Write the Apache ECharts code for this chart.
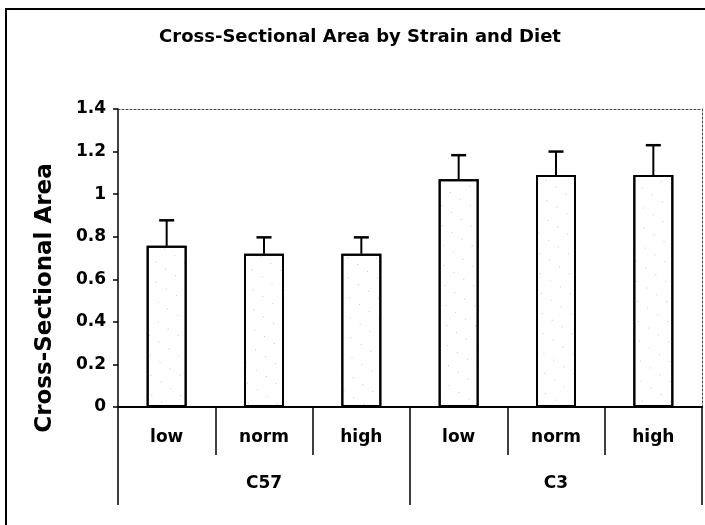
<!DOCTYPE html>
<html>
<head>
<meta charset="utf-8">
<script src="https://cdn.jsdelivr.net/npm/echarts@6/dist/echarts.min.js"></script>
<style>html,body{margin:0;padding:0;background:#fff}#c{width:705px;height:525px}</style>
</head>
<body>
<div id="c"></div>
<script>
var title = 'Cross-Sectional Area by Strain and Diet';
var yTitle = 'Cross-Sectional Area';
var diets = ['low', 'norm', 'high', 'low', 'norm', 'high'];
var strains = ['C57', 'C3'];
var means = [0.757, 0.72, 0.72, 1.07, 1.09, 1.09];
var errors = [0.12, 0.077, 0.077, 0.113, 0.11, 0.14];

var chart = echarts.init(document.getElementById('c'), null, {renderer: 'canvas'});
var F = '"DejaVu Sans", "Liberation Sans", Arial, sans-serif';
var errData = means.map(function (m, i) { return [i, m, m + errors[i]]; });

chart.setOption({
  animation: false,
  backgroundColor: '#fff',
  title: {
    text: title, left: 355, top: 23, textAlign: 'center',
    textStyle: {fontFamily: F, fontSize: 18, fontWeight: 'bold', color: '#000'}
  },
  graphic: [{
    type: 'polyline', silent: true,
    shape: {points: [[6, 530], [6, 9], [710, 9]]},
    style: {stroke: '#000', lineWidth: 2, fill: null}
  }, {
    type: 'text', silent: true, x: 45, y: 298, rotation: Math.PI / 2,
    style: {text: yTitle, fontFamily: F, fontSize: 23, fontWeight: 'bold', fill: '#000', align: 'center', verticalAlign: 'middle'}
  }],
  grid: {left: 118, right: 3, top: 109, bottom: 118, containLabel: false},
  xAxis: [{
    type: 'category', data: diets, position: 'bottom', boundaryGap: true,
    axisLine: {show: true, lineStyle: {color: '#000', width: 2}},
    axisTick: {show: true, interval: 0, length: 48, alignWithLabel: false, lineStyle: {color: '#000', width: 1.5}},
    axisLabel: {interval: 0, margin: 22, fontFamily: F, fontSize: 17, fontWeight: 'bold', color: '#000'}
  }, {
    type: 'category', data: strains, position: 'bottom', boundaryGap: true,
    axisLine: {show: false},
    axisTick: {show: true, interval: 0, length: 98, lineStyle: {color: '#000', width: 1.5}},
    axisLabel: {interval: 0, margin: 68, fontFamily: F, fontSize: 17, fontWeight: 'bold', color: '#000'}
  }, {
    type: 'category', data: diets, position: 'top',
    axisLine: {show: true, lineStyle: {color: '#444', width: 1, type: [2, 2]}},
    axisTick: {show: false}, axisLabel: {show: false}
  }],
  yAxis: [{
    type: 'value', min: 0, max: 1.4, interval: 0.2,
    axisLine: {show: true, lineStyle: {color: '#000', width: 1.5}},
    axisTick: {show: true, length: 5, lineStyle: {color: '#000', width: 1.5}},
    axisLabel: {margin: 12, fontFamily: F, fontSize: 17, fontWeight: 'bold', color: '#000'},
    splitLine: {show: false}
  }, {
    type: 'value', min: 0, max: 1.4, interval: 0.2, position: 'right',
    axisLine: {show: true, lineStyle: {color: '#444', width: 1, type: [2, 2]}},
    axisTick: {show: false}, axisLabel: {show: false}, splitLine: {show: false}
  }],
  series: [{
    type: 'bar', xAxisIndex: 0, yAxisIndex: 0, data: means, barWidth: 40,
    itemStyle: {
      color: '#fff', borderColor: '#000', borderWidth: 2,
      decal: {symbol: 'rect', symbolSize: 1, color: 'rgba(0,0,0,0.22)', dashArrayX: [1, 11], dashArrayY: [1, 15], rotation: 0.6}
    },
    z: 2
  }, {
    type: 'custom', xAxisIndex: 0, yAxisIndex: 0, data: errData, z: 3,
    renderItem: function (params, api) {
      var base = api.coord([api.value(0), api.value(1)]);
      var top = api.coord([api.value(0), api.value(2)]);
      var half = 7.5;
      return {
        type: 'group', children: [
          {type: 'line', shape: {x1: base[0], y1: base[1], x2: top[0], y2: top[1]}, style: {stroke: '#000', lineWidth: 2}},
          {type: 'line', shape: {x1: top[0] - half, y1: top[1], x2: top[0] + half, y2: top[1]}, style: {stroke: '#000', lineWidth: 2.5}}
        ]
      };
    }
  }]
});
</script>
</body>
</html>
